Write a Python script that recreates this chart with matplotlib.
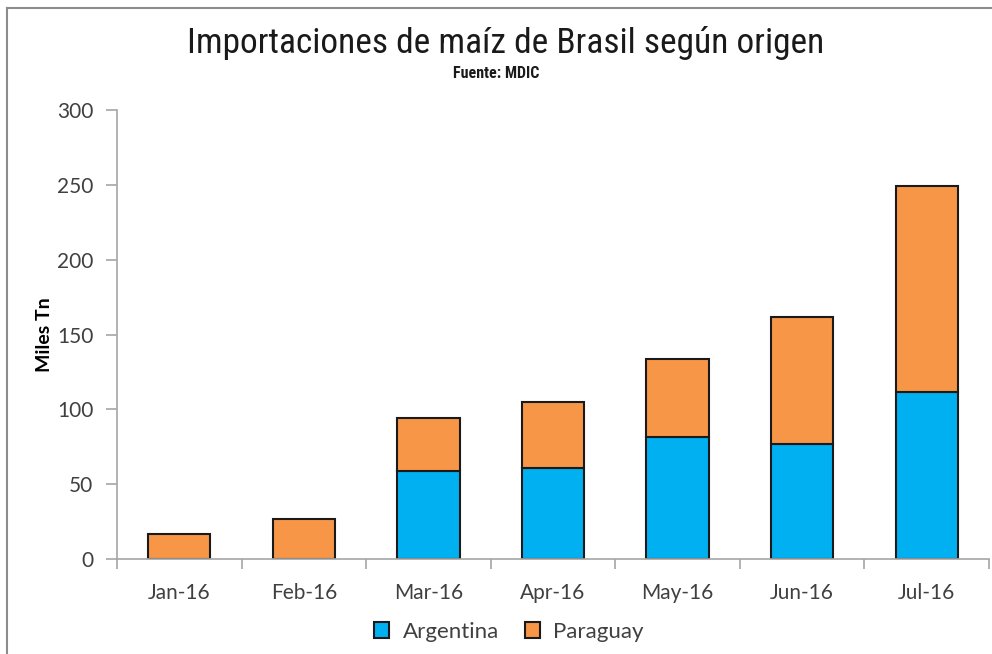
import matplotlib.pyplot as plt
from matplotlib.lines import Line2D
import numpy as np

meses = ['Jan-16', 'Feb-16', 'Mar-16', 'Apr-16', 'May-16', 'Jun-16', 'Jul-16']
argentina = [0, 0, 58.6, 61.0, 81.4, 77.0, 111.7]
paraguay = [16.5, 26.8, 35.8, 44.2, 52.4, 84.6, 137.5]

narrow = ['DejaVu Sans Condensed', 'Roboto Condensed', 'Liberation Sans Narrow', 'Roboto', 'DejaVu Sans']
sans = ['Lato', 'DejaVu Sans']

fig = plt.figure(figsize=(9.92, 6.54), dpi=100)
ax = fig.add_axes([0.118, 0.145, 0.879, 0.687])

x = np.arange(len(meses))
ax.bar(x, argentina, width=0.5, color='#00B0F0', edgecolor='#1a1a1a', linewidth=1.5, label='Argentina')
ax.bar(x, paraguay, width=0.5, bottom=argentina, color='#F79646', edgecolor='#1a1a1a', linewidth=1.5, label='Paraguay')

ax.set_xlim(-0.5, len(meses) - 0.5)
ax.set_ylim(0, 300)
ax.set_yticks(np.arange(0, 301, 50))
ax.set_xticks(x)
ax.set_xticklabels(meses)
ax.set_xticks(np.arange(-0.5, len(meses), 1), minor=True)
ax.tick_params(axis='x', which='major', length=0, pad=17)
ax.tick_params(axis='x', which='minor', length=7, color='#a6a6a6', width=1.2)
ax.tick_params(axis='y', length=8, color='#a6a6a6', width=1.2, pad=9)
for lab in ax.get_xticklabels() + ax.get_yticklabels():
    lab.set_fontsize(15)
    lab.set_color('#404040')
    lab.set_family(sans)

for s in ['top', 'right']:
    ax.spines[s].set_visible(False)
ax.spines['left'].set_color('#a6a6a6')
ax.spines['bottom'].set_color('#a6a6a6')
ax.spines['left'].set_linewidth(1.2)
ax.spines['bottom'].set_linewidth(1.2)

ax.set_ylabel('Miles Tn', fontsize=14, fontweight='bold', family=sans, labelpad=3)

fig.text(0.51, 0.935, 'Importaciones de maíz de Brasil según origen', ha='center', va='center',
         fontsize=25.5, family=narrow, color='#1a1a1a')
fig.text(0.5, 0.888, 'Fuente: MDIC', ha='center', va='center', fontsize=11.5, fontweight='bold',
         family=narrow, color='#1a1a1a')

leg = fig.legend(*ax.get_legend_handles_labels(), loc='center', bbox_to_anchor=(0.513, 0.034), ncol=2,
                 frameon=False, handlelength=0.7, handleheight=0.7, columnspacing=1.15,
                 handletextpad=0.6, prop={'family': sans, 'size': 16})
for t in leg.get_texts():
    t.set_color('#404040')

# marco gris del grafico
fig.add_artist(Line2D([0.007, 0.007], [0.0, 0.988], transform=fig.transFigure, color='#8c8c8c', lw=1.5))
fig.add_artist(Line2D([0.007, 1.0], [0.988, 0.988], transform=fig.transFigure, color='#8c8c8c', lw=1.5))

fig.savefig('out.png', dpi=100)
